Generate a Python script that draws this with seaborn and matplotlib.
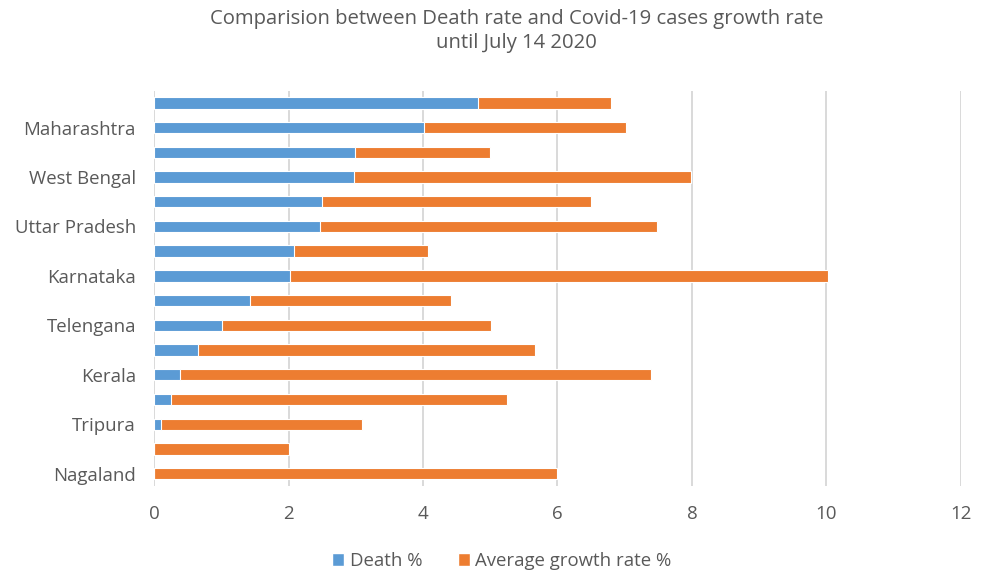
import matplotlib
matplotlib.use("Agg")
import matplotlib.pyplot as plt
import seaborn as sns
import pandas as pd
from matplotlib.patches import Patch

states = ["Gujarat", "Maharashtra", "Madhya Pradesh", "West Bengal", "Delhi",
          "Uttar Pradesh", "Punjab", "Karnataka", "Tamil Nadu", "Telengana",
          "Bihar", "Kerala", "Assam", "Tripura", "Manipur", "Nagaland"]
shown_labels = ["", "Maharashtra", "", "West Bengal", "", "Uttar Pradesh", "",
                "Karnataka", "", "Telengana", "", "Kerala", "", "Tripura", "", "Nagaland"]
death = [4.82, 4.01, 2.99, 2.97, 2.50, 2.47, 2.08, 2.02, 1.42, 1.01, 0.66, 0.39, 0.25, 0.10, 0.0, 0.0]
growth = [1.98, 3.01, 2.01, 5.02, 4.0, 5.01, 1.99, 8.0, 3.0, 4.0, 5.01, 7.0, 5.0, 2.99, 2.0, 6.0]
xticks = [0, 2, 4, 6, 8, 10, 12]

df = pd.DataFrame({"state": states, "death": death, "growth": growth})
df["total"] = df["death"] + df["growth"]

sns.set_theme(style="white")
plt.rcParams["font.family"] = ["Open Sans", "DejaVu Sans"]
txt = "#595959"
blue = "#5B9BD5"
orange = "#ED7D31"

fig = plt.figure(figsize=(9.86, 5.75), dpi=100)
ax = fig.add_axes([0.1562, 0.1548, 0.8184, 0.6878])

sns.barplot(data=df, y="state", x="total", color=orange, orient="h", width=0.46,
            edgecolor="white", linewidth=0.8, saturation=1, ax=ax, zorder=3)
sns.barplot(data=df, y="state", x="death", color=blue, orient="h", width=0.46,
            edgecolor="white", linewidth=0.8, saturation=1, ax=ax, zorder=4)

ax.set_xlim(0, 12)
ax.set_ylim(len(states) - 0.5, -0.5)
ax.set_xticks(xticks)
ax.set_xticklabels([str(v) for v in xticks], color=txt, fontsize=13.5)
ax.set_yticks(range(len(states)))
ax.set_yticklabels(shown_labels, color=txt, fontsize=13.4)
ax.tick_params(axis="y", length=0, pad=13)
ax.tick_params(axis="x", length=0, pad=14)
ax.set_xlabel("")
ax.set_ylabel("")
for s in ax.spines.values():
    s.set_visible(False)
ax.grid(axis="x", color="#D9D9D9", linewidth=1.4, zorder=0)
ax.set_axisbelow(True)

fig.text(0.524, 0.985, "Comparision between Death rate and Covid-19 cases growth rate\nuntil July 14 2020",
         ha="center", va="top", color=txt, fontsize=14.6, linespacing=1.3)

handles = [Patch(facecolor=blue, label="Death %"), Patch(facecolor=orange, label="Average growth rate %")]
fig.legend(handles=handles, loc="center", bbox_to_anchor=(0.509, 0.024), ncol=2, frameon=False,
           fontsize=13.4, labelcolor=txt, handlelength=0.65, handleheight=0.65, handletextpad=0.3,
           columnspacing=1.9)

fig.savefig("out.png", dpi=100)
